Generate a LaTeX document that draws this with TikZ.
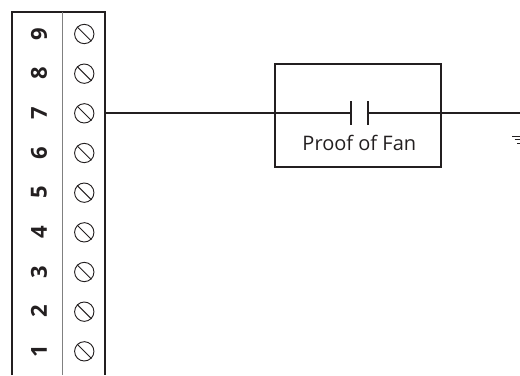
\documentclass[tikz,border=0pt]{standalone}
\usepackage{fontspec}
\setmainfont{Open Sans}
\usetikzlibrary{positioning}
\definecolor{wire}{RGB}{35,31,32}
\begin{document}
\begin{tikzpicture}[x=1pt,y=-1pt]
                \tikzset{wireline/.style = {draw=wire, line width=1.6pt}}
                \tikzset{screwhead/.style = {circle, draw=wire, line width=0.7pt, minimum size=14.5pt, inner sep=0pt}}
                \tikzset{termnum/.style = {rotate=90, font=\bfseries\fontsize{16.5}{16.5}\selectfont, text=wire}}
                \useasboundingbox (0,0) rectangle (390,281.25);

                % terminal strip
                \coordinate (stripTL) at (9,9);
                \coordinate (stripTR) at (79,9);
                \coordinate (stripBL) at (9,281.25);
                \coordinate (stripBR) at (79,281.25);
                \coordinate (divT) at (47,9);
                \coordinate (divB) at (47,281.25);
                \draw[wireline] (stripBL) -- (stripTL) -- (stripTR) -- (stripBR);
                \draw[draw=gray, line width=0.8pt] (divT) -- (divB);

                \foreach \n in {1,...,9} {
                    \node[termnum] (num\n) at (29.2,{25.5+(9-\n)*29.75}) {\n};
                    \node[screwhead] (screw\n) at (63.2,{25.5+(9-\n)*29.75}) {};
                    \draw[wire, line width=0.7pt] (screw\n.north west) -- (screw\n.south east);
                }

                % contact box
                \node[draw=wire, line width=1.6pt, minimum width=124pt, minimum height=77pt, inner sep=0pt] (proofbox) at (268.5,86.5) {};
                \coordinate (contactL) at (263,85);
                \coordinate (contactR) at (276,85);
                \coordinate (wireEnd) at (390,85);
                \draw[wireline] (contactL) ++(0,-9) -- ++(0,18);
                \draw[wireline] (contactR) ++(0,-9) -- ++(0,18);
                \draw[wireline] (79,85) -- (contactL);
                \draw[wireline] (contactR) -- (wireEnd);
                \node[font=\fontsize{15}{15}\selectfont, text=wire] (prooflabel) at (269.5,107.5) {Proof of Fan};

                % ground mark
                \coordinate (gndA) at (384,102);
                \coordinate (gndB) at (390,102);
                \draw[wire, line width=0.5pt] (gndA) -- (gndB);
                \draw[wire, line width=0.5pt] (386,104.6) -- (390,104.6);
                \draw[wire, line width=0.5pt] (388,107.2) -- (390,107.2);
\end{tikzpicture}
\end{document}
